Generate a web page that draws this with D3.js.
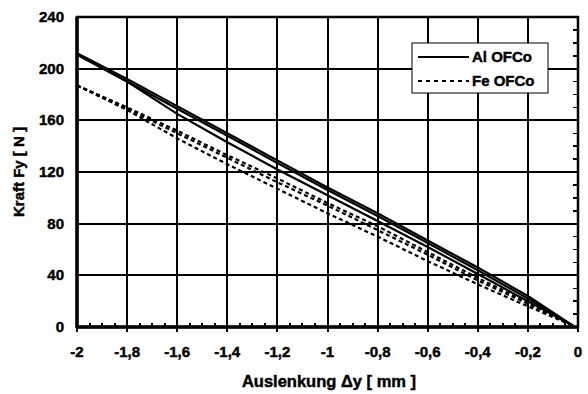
<!DOCTYPE html>
<html>
<head>
<meta charset="utf-8">
<script src="https://cdn.jsdelivr.net/npm/d3@7"></script>
<style>
  body { margin: 0; background: #fff; }
  text { font-family: "Liberation Sans", Arial, sans-serif; font-weight: bold; stroke: #000; stroke-width: 0.45px; }
</style>
</head>
<body>
<div id="chart"></div>
<script>
// Auslenkung in mm
var xValues = [-2, -1.8, -1.6, -1.4, -1.2, -1, -0.8, -0.6, -0.4, -0.2, -0.02];
// Kraft in N, Al OFCo
var alUp1 = [212, 192, 171, 150, 129, 108, 88, 67, 46, 24, 1];
var alUp2 = [211, 190, 169, 148, 127, 106, 86, 65, 44, 22, 1];
var alDown = [211, 190, 165, 143, 122, 102, 82, 62, 41, 20, 1];
// Kraft in N, Fe OFCo
var feUp1 = [187, 170, 152, 133, 115, 96, 78, 58, 38, 19, 1];
var feUp2 = [187, 169, 150, 131, 112, 94, 75, 56, 36, 18, 1];
var feDown = [187, 168, 146, 126, 107, 88, 70, 51, 33, 16, 1];

var xTicks = [-2, -1.8, -1.6, -1.4, -1.2, -1, -0.8, -0.6, -0.4, -0.2, 0];
var yTicks = [0, 40, 80, 120, 160, 200, 240];
var legendLabels = ["Al OFCo", "Fe OFCo"];

(function() {
  var w = 588, h = 394;
  var pLeft = 77, pRight = 578, pTop = 17, pBottom = 327;

  var svg = d3.select("#chart").append("svg")
    .attr("width", w)
    .attr("height", h);

  var x = d3.scaleLinear().domain([-2, 0]).range([pLeft, pRight]);
  var y = d3.scaleLinear().domain([0, 240]).range([pBottom, pTop]);

  // grid
  svg.selectAll(".vgrid")
    .data(xTicks)
    .enter()
    .append("line")
    .attr("x1", function(d) { return x(d); })
    .attr("x2", function(d) { return x(d); })
    .attr("y1", pTop)
    .attr("y2", pBottom + 5)
    .attr("stroke", "#000")
    .attr("stroke-width", 2)
    .attr("shape-rendering", "crispEdges");

  svg.selectAll(".hgrid")
    .data(yTicks)
    .enter()
    .append("line")
    .attr("x1", pLeft)
    .attr("x2", pRight)
    .attr("y1", function(d) { return y(d); })
    .attr("y2", function(d) { return y(d); })
    .attr("stroke", "#000")
    .attr("stroke-width", 2)
    .attr("shape-rendering", "crispEdges");

  // minor ticks bottom and right
  svg.selectAll(".xminor")
    .data(d3.range(-2, 0.001, 0.05))
    .enter()
    .append("line")
    .attr("x1", function(d) { return x(d); })
    .attr("x2", function(d) { return x(d); })
    .attr("y1", pBottom)
    .attr("y2", pBottom - 4)
    .attr("stroke", "#000")
    .attr("stroke-width", 2)
    .attr("shape-rendering", "crispEdges");

  svg.selectAll(".yminor")
    .data(d3.range(0, 241, 10))
    .enter()
    .append("line")
    .attr("x1", pRight)
    .attr("x2", pRight - 5)
    .attr("y1", function(d) { return y(d); })
    .attr("y2", function(d) { return y(d); })
    .attr("stroke", "#000")
    .attr("stroke-width", 1.5)
    .attr("shape-rendering", "crispEdges");

  // frame
  svg.append("rect")
    .attr("x", pLeft)
    .attr("y", pTop)
    .attr("width", pRight - pLeft)
    .attr("height", pBottom - pTop)
    .attr("fill", "none")
    .attr("stroke", "#000")
    .attr("stroke-width", 2.5);
  svg.append("line")
    .attr("x1", pLeft).attr("x2", pLeft)
    .attr("y1", pTop).attr("y2", pBottom + 1)
    .attr("stroke", "#000").attr("stroke-width", 3.5);
  svg.append("line")
    .attr("x1", pLeft).attr("x2", pRight)
    .attr("y1", pBottom).attr("y2", pBottom)
    .attr("stroke", "#000").attr("stroke-width", 3.5);

  // curves
  var line = d3.line()
    .x(function(d) { return x(d[0]); })
    .y(function(d) { return y(d[1]); });

  var series = [
    { values: alUp1, dash: null },
    { values: alUp2, dash: null },
    { values: alDown, dash: null },
    { values: feUp1, dash: "4,3" },
    { values: feUp2, dash: "4,3" },
    { values: feDown, dash: "4,3" }
  ];

  svg.selectAll(".curve")
    .data(series)
    .enter()
    .append("path")
    .attr("d", function(s) { return line(d3.zip(xValues, s.values)); })
    .attr("fill", "none")
    .attr("stroke", "#000")
    .attr("stroke-width", 2.2)
    .attr("stroke-dasharray", function(s) { return s.dash; });

  // tick labels
  svg.selectAll(".xlabel")
    .data(xTicks)
    .enter()
    .append("text")
    .attr("x", function(d) { return x(d); })
    .attr("y", 357)
    .attr("text-anchor", "middle")
    .attr("font-size", "15px")
    .text(function(d) { return String(d).replace(".", ","); });

  svg.selectAll(".ylabel")
    .data(yTicks)
    .enter()
    .append("text")
    .attr("x", 64)
    .attr("y", function(d) { return y(d) + 5; })
    .attr("text-anchor", "end")
    .attr("font-size", "15px")
    .text(function(d) { return d; });

  // axis titles
  svg.append("text")
    .attr("x", 329)
    .attr("y", 387)
    .attr("text-anchor", "middle")
    .attr("font-size", "16.5px")
    .text("Auslenkung \u0394y [ mm ]");

  svg.append("text")
    .attr("transform", "translate(24,172) rotate(-90)")
    .attr("text-anchor", "middle")
    .attr("font-size", "15px")
    .text("Kraft Fy [ N ]");

  // legend
  var legend = svg.append("g");
  legend.append("rect")
    .attr("x", 412)
    .attr("y", 43)
    .attr("width", 136)
    .attr("height", 50)
    .attr("fill", "#fff")
    .attr("stroke", "#000")
    .attr("stroke-width", 1);

  legend.selectAll(".item")
    .data(legendLabels)
    .enter()
    .append("line")
    .attr("x1", 418)
    .attr("x2", 469)
    .attr("y1", function(d, i) { return 57 + i * 24; })
    .attr("y2", function(d, i) { return 57 + i * 24; })
    .attr("stroke", "#000")
    .attr("stroke-width", 2)
    .attr("stroke-dasharray", function(d, i) { return i ? "4,4" : null; });

  legend.selectAll(".ltext")
    .data(legendLabels)
    .enter()
    .append("text")
    .attr("x", 472)
    .attr("y", function(d, i) { return 62 + i * 24; })
    .attr("font-size", "15px")
    .text(function(d) { return d; });
})();
</script>
</body>
</html>
